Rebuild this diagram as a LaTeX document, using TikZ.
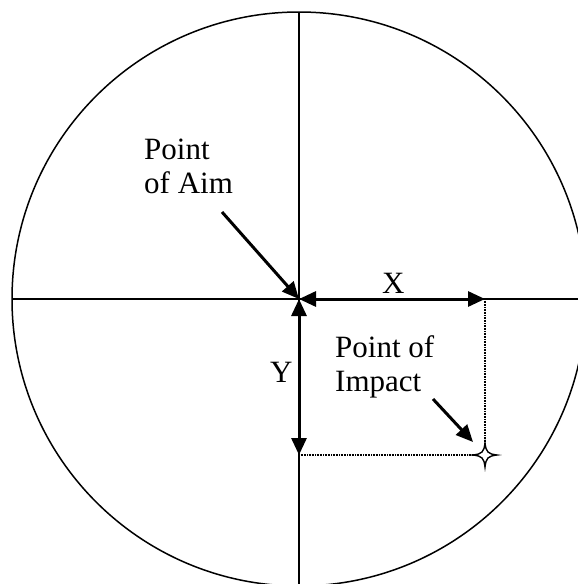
\documentclass[tikz,border=0pt]{standalone}
\usepackage{fontspec}
\setmainfont{Liberation Serif}
\usetikzlibrary{arrows.meta}
\tikzset{
  axisline/.style={line width=1.5pt, black},
  tipstyle/.style={},
  thickarrow/.style={line width=3pt, -{Triangle[length=17pt,width=15pt]}},
  dblarrow/.style={line width=3pt, {Triangle[length=17pt,width=15pt]}-{Triangle[length=17pt,width=15pt]}},
  dotline/.style={line width=1.2pt, dash pattern=on 0.8pt off 0.8pt},
  lbl/.style={inner sep=0pt, anchor=base west, font=\fontsize{31}{34}\selectfont, align=left},
}
\begin{document}
\begin{tikzpicture}[x=1pt,y=-1pt]
\useasboundingbox (0,0) rectangle (578,584);
\clip (0,0) rectangle (578,584);
\fill[white] (0,0) rectangle (578,584);
\coordinate (O) at (299,299);
\coordinate (XE) at (485,299);
\coordinate (YE) at (299,455);
\coordinate (PI) at (485,455);
\coordinate (LT) at (12,299);
\coordinate (RT) at (578,299);
\coordinate (TP) at (299,12);
\coordinate (BT) at (299,584);
\coordinate (A1) at (222,212);
\coordinate (I1) at (433,399);
\coordinate (I2) at (473,442);
% circle and axes
\draw[axisline] (O) circle[radius=287];
\draw[axisline] (LT) -- (RT);
\draw[axisline] (TP) -- (BT);
% dotted guides
\draw[dotline] (XE) -- (PI);
\draw[dotline] (YE) -- (PI);
% X and Y arrows
\draw[dblarrow] (O) -- (XE);
\draw[dblarrow] (O) -- (YE);
% labels
\node[lbl] (xl) at (382,293) {X};
\node[lbl] (yl) at (270,382) {Y};
\node[lbl] (aim) at (144,193) {Point\\of Aim};
\node[lbl] (imp) at (335,391) {Point of\\Impact};
% pointer arrows
\draw[thickarrow] (A1) -- (O);
\draw[thickarrow] (I1) -- (I2);
% impact star
\draw[line width=1.4pt, fill=white, shift={(485,455)}]
  (12,0) .. controls (3,-1) and (1,-3) .. (0,-12)
  .. controls (-1,-3) and (-3,-1) .. (-12,0)
  .. controls (-3,1) and (-1,3) .. (0,12)
  .. controls (1,3) and (3,1) .. cycle;
\end{tikzpicture}
\end{document}
